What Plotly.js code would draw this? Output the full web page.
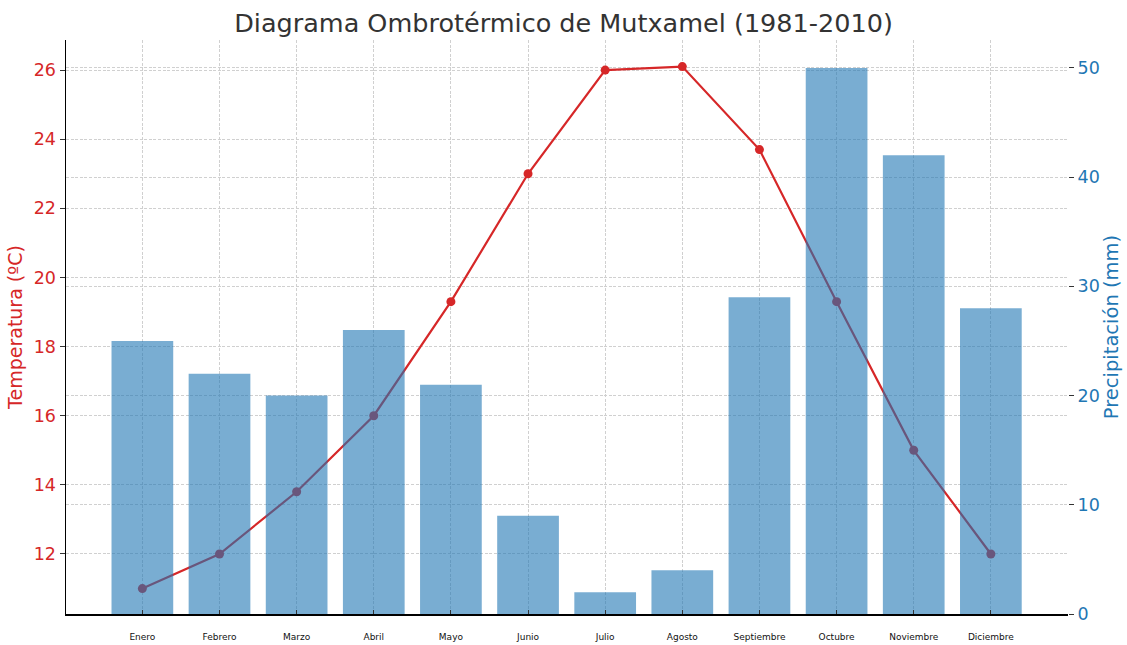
<!DOCTYPE html>
<html>
<head>
<meta charset="utf-8">
<script src="https://cdn.plot.ly/plotly-3.0.1.min.js"></script>
<style>html,body{margin:0;padding:0;background:#fff;}#chart{width:1127px;height:645px;}</style>
</head>
<body>
<div id="chart"></div>
<script>
const months = ["Enero","Febrero","Marzo","Abril","Mayo","Junio","Julio","Agosto","Septiembre","Octubre","Noviembre","Diciembre"];
const temperature = [11.0, 12.0, 13.8, 16.0, 19.3, 23.0, 26.0, 26.1, 23.7, 19.3, 15.0, 12.0];
const precipitation = [25, 22, 20, 26, 21, 9, 2, 4, 29, 50, 42, 28];
const tempTicks = [12, 14, 16, 18, 20, 22, 24, 26];
const precTicks = [0, 10, 20, 30, 40, 50];

const RED = "#d62728";
const BLUE = "#1f77b4";
const FONT = "DejaVu Sans, sans-serif";
const idx = months.map((m, i) => i);

const lineTrace = {
  x: idx, y: temperature, type: "scatter", mode: "lines+markers",
  line: {color: RED, width: 2.2}, marker: {color: RED, size: 9},
  xaxis: "x", yaxis: "y", hoverinfo: "skip", showlegend: false
};
const barTrace = {
  x: idx, y: precipitation, type: "bar", width: 0.8,
  marker: {color: "rgba(31,119,180,0.6)", line: {width: 0}},
  xaxis: "x", yaxis: "y2", hoverinfo: "skip", showlegend: false
};

const grid = {showgrid: true, gridcolor: "#d0d0d0", griddash: "3px,1.6px", gridwidth: 1};

const layout = {
  width: 1127, height: 645,
  margin: {l: 66, r: 59, t: 40, b: 31, pad: 0},
  paper_bgcolor: "#fff", plot_bgcolor: "#fff",
  font: {family: FONT},
  title: {text: "Diagrama Ombrotérmico de Mutxamel (1981-2010)", font: {size: 25.5, color: "#333333", family: FONT}, x: 0.5, xanchor: "center", y: 0.965, yanchor: "middle"},
  xaxis: Object.assign({}, grid, {
    range: [-0.99, 12.0], tickvals: idx, ticktext: months,
    tickfont: {size: 9, color: "#111", family: FONT},
    ticks: "inside", ticklen: 4, tickcolor: "#333",
    ticklabelstandoff: 14,
    showline: true, linecolor: "#000", linewidth: 1.5, zeroline: false, fixedrange: true
  }),
  yaxis: Object.assign({}, grid, {
    range: [10.264, 26.87], tickvals: tempTicks,
    tickfont: {size: 17.5, color: RED, family: FONT},
    ticks: "outside", ticklen: 5, tickcolor: "#333",
    showline: true, linecolor: "#000", linewidth: 1.5, zeroline: false,
    title: {text: "Temperatura (ºC)", font: {size: 19, color: RED, family: FONT}, standoff: 6}
  }),
  yaxis2: Object.assign({}, grid, {
    overlaying: "y", side: "right",
    range: [0, 52.56], tickvals: precTicks,
    tickfont: {size: 17.5, color: BLUE, family: FONT},
    ticks: "outside", ticklen: 5, tickcolor: "#333",
    showline: false, zeroline: false,
    title: {text: "Precipitación (mm)", font: {size: 19.5, color: BLUE, family: FONT}, standoff: 4}
  })
};

Plotly.newPlot("chart", [lineTrace, barTrace], layout, {staticPlot: true, displayModeBar: false});
</script>
</body>
</html>
